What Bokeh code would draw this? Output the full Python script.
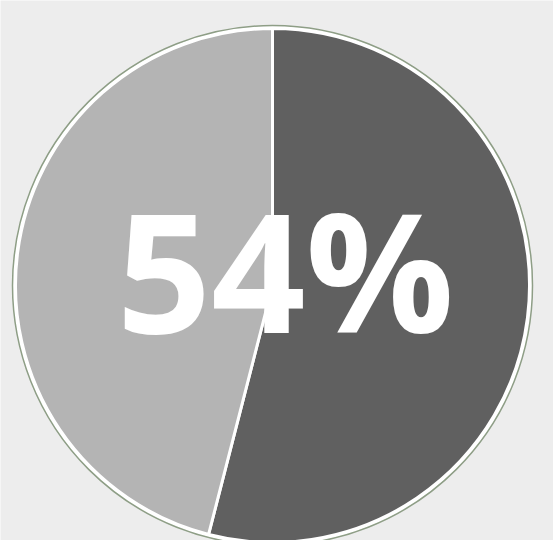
import math
from bokeh.plotting import figure
from bokeh.models import ColumnDataSource, Range1d
from bokeh.core.properties import value
from bokeh.embed import file_html
from bokeh.resources import INLINE

# Data
categories = ["Share", "Remainder"]
values = [54, 46]
colors = ["#606060", "#b4b4b4"]
center_label = "54%"

W, H = 553, 540
p = figure(width=W, height=H, output_backend="svg", toolbar_location=None,
           x_range=Range1d(0, W), y_range=Range1d(0, H), min_border=0)
p.axis.visible = False
p.grid.visible = False
p.outline_line_color = None
p.background_fill_color = "#ededed"
p.border_fill_color = "#ededed"

cx, cy, r = 272, H - 285, 257

# Compute wedge angles (clockwise from top)
total = sum(values)
ends, starts = [], []
cur = math.pi / 2
for v in values:
    sweep = 2 * math.pi * v / total
    ends.append(cur)
    starts.append(cur - sweep)
    cur -= sweep

src = ColumnDataSource(dict(cat=categories, val=values, color=colors,
                            start=starts, end=ends))

# outer thin ring
p.circle(x=[cx], y=[cy], radius=r + 3, fill_color="white", line_color="#8e9e86",
         line_width=1.5)
p.wedge(x=cx, y=cy, radius=r, start_angle="start", end_angle="end",
        fill_color="color", line_color="white", line_width=3, source=src)

p.text(x=[285], y=[H - 268], text=[center_label], text_color="white",
       text_font=value("Open Sans"), text_font_style="bold",
       text_font_size="165px", text_align="center", text_baseline="middle")

open("out.html", "w").write(file_html(p, INLINE))
